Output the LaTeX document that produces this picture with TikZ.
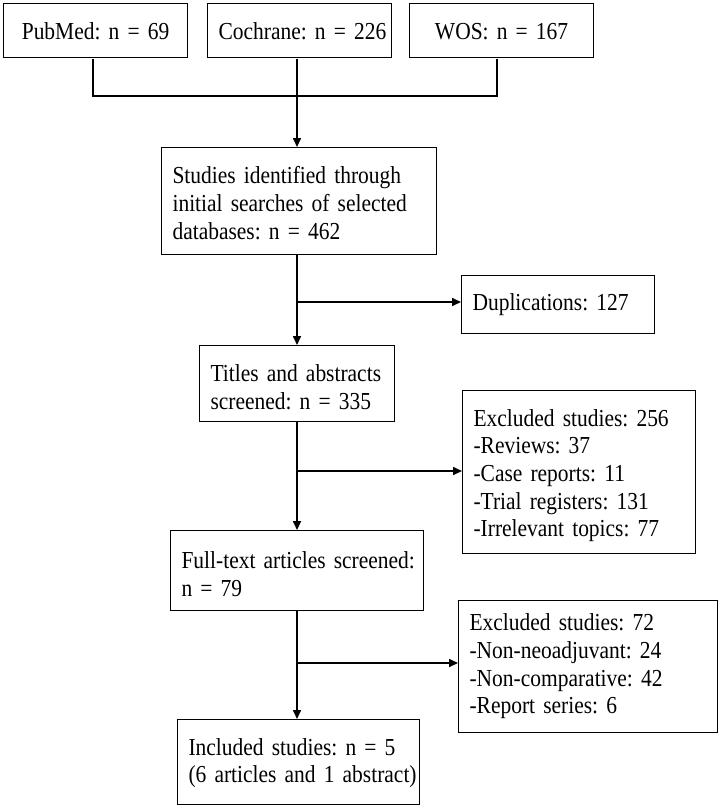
\documentclass[tikz,border=0pt]{standalone}
\usepackage{fontspec}
\setmainfont{Liberation Serif}[FakeStretch=0.88]
\usetikzlibrary{arrows.meta}
\newcommand\Ln[1]{\mbox{#1}}
\newcommand\Lift[1]{\rule{0pt}{#1}}
\begin{document}
\begin{tikzpicture}[x=1pt,y=-1pt,
  box/.style={draw, line width=1.1pt, anchor=north west, inner xsep=11pt, inner ysep=0pt,
    align=left, font=\fontsize{24.4}{27.7}\selectfont,
    execute at begin node={\frenchspacing\hyphenpenalty=10000\relax}},
  cbox/.style={box, align=center},
  thin/.style={line width=1.2pt},
  conn/.style={line width=1.6pt},
  arr/.style={conn, -{Triangle[length=9pt,width=8pt]}}]
\useasboundingbox[fill=white] (0,0) rectangle (720,809);

% sources
\node[cbox, minimum width=184pt, minimum height=54pt, text width=162pt] (pub) at (3,3) {\Lift{19pt}\Ln{PubMed: n = 69}};
\node[cbox, minimum width=184pt, minimum height=54pt, text width=162pt] (coch) at (207,3) {\Lift{19pt}\Ln{Cochrane: n = 226}};
\node[cbox, minimum width=184pt, minimum height=54pt, text width=162pt] (wos) at (409,3) {\Lift{19pt}\Ln{WOS: n = 167}};

% main column
\node[box, minimum width=275pt, minimum height=107pt, text width=253pt] (studies) at (161,147)
  {\Lift{21pt}\Ln{Studies identified through}\\\Ln{initial searches of selected}\\\Ln{databases: n = 462}};
\node[box, minimum width=195pt, minimum height=76pt, text width=173pt] (titles) at (199,345)
  {\Lift{24pt}\Ln{Titles and abstracts}\\\Ln{screened: n = 335}};
\node[box, minimum width=253pt, minimum height=80pt, text width=231pt] (full) at (170,530)
  {\Lift{24pt}\Ln{Full-text articles screened:}\\\Ln{n = 79}};
\node[box, minimum width=242pt, minimum height=85pt, text width=220pt] (incl) at (177,719)
  {\Lift{19pt}\Ln{Included studies: n = 5}\\\Ln{(6 articles and 1 abstract)}};

% side boxes
\node[box, minimum width=193pt, minimum height=58pt, text width=171pt] (dup) at (461,275)
  {\Ln{Duplications: 127}};
\node[box, minimum width=233pt, minimum height=163pt, text width=211pt] (exc1) at (462,390)
  {\Lift{24pt}\Ln{Excluded studies: 256}\\\Ln{-Reviews: 37}\\\Ln{-Case reports: 11}\\\Ln{-Trial registers: 131}\\\Ln{-Irrelevant topics: 77}};
\node[box, minimum width=259pt, minimum height=132pt, text width=237pt] (exc2) at (458,600)
  {\Ln{Excluded studies: 72}\\\Ln{-Non-neoadjuvant: 24}\\\Ln{-Non-comparative: 42}\\\Ln{-Report series: 6}};

% bracket joining the three sources
\coordinate (bl) at (93,59);
\coordinate (br) at (497,59);
\coordinate (bm) at (297,59);
\draw[thin] (bl) -- (93,96) -- (497,96) -- (br);

% junctions on the spine
\coordinate (j1) at (297,302);
\coordinate (j2) at (297,471);
\coordinate (j3) at (297,663);

% spine
\draw[arr] (bm) -- (bm |- studies.north);
\draw[arr] (j1 |- studies.south) -- (j1 |- titles.north);
\draw[arr] (j2 |- titles.south) -- (j2 |- full.north);
\draw[arr] (j3 |- full.south) -- (j3 |- incl.north);

% side arrows
\draw[arr] (j1) -- (j1 -| dup.west);
\draw[arr] (j2) -- (j2 -| exc1.west);
\draw[arr] (j3) -- (j3 -| exc2.west);
\end{tikzpicture}
\end{document}
